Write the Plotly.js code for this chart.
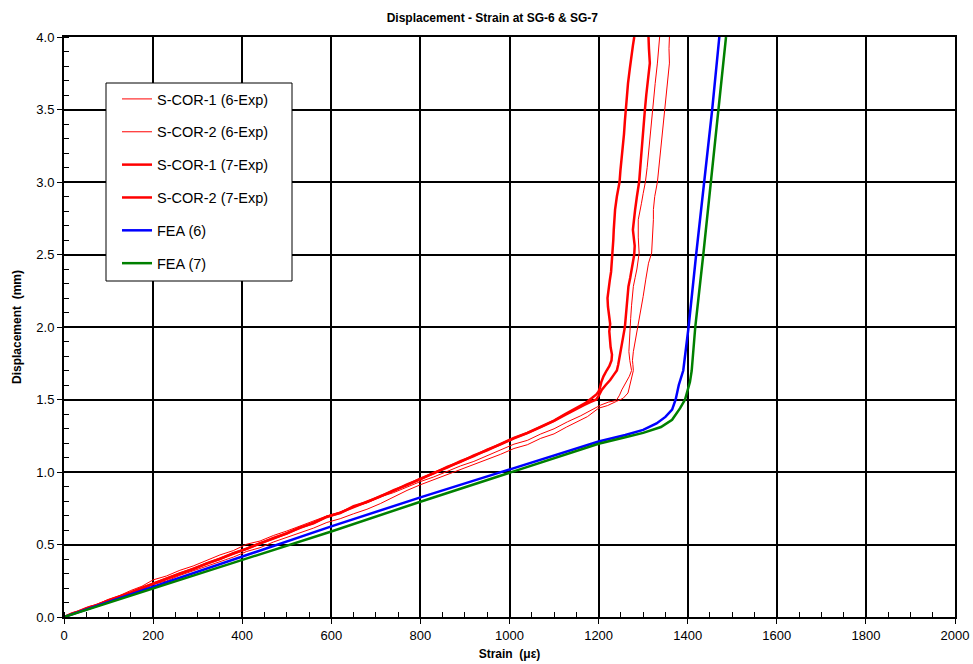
<!DOCTYPE html>
<html>
<head>
<meta charset="utf-8">
<script src="https://cdn.plot.ly/plotly-3.0.1.min.js"></script>
<style>
  html, body { margin: 0; padding: 0; background: #fff; }
  #chart { width: 973px; height: 664px; }
</style>
</head>
<body>
<div id="chart"></div>
<script>
// Strain readings (µε) and displacement (mm) for each specimen and the FE model

// S-COR-1, gauge SG-6 (experiment)
const cor1SG6Strain = [0, 20, 40, 55, 75, 100, 125, 150, 175, 200, 230, 260, 290, 320, 350, 380, 410, 440, 470, 500,
  530, 560, 590, 620, 650, 680, 710, 740, 770, 800, 830, 860, 890, 920, 950, 980, 1010, 1040, 1070, 1100,
  1130, 1160, 1185, 1205, 1222, 1235, 1241, 1247, 1252, 1258, 1263, 1269, 1274, 1272, 1270, 1268, 1269, 1270,
  1272, 1274, 1276, 1278, 1282, 1286, 1291, 1290, 1289, 1289, 1292, 1296, 1300, 1305, 1309, 1312, 1316, 1321,
  1324, 1327, 1332, 1335, 1337];
const cor1SG6Disp = [0, 0.03, 0.045, 0.072, 0.088, 0.122, 0.148, 0.183, 0.212, 0.256, 0.283, 0.322, 0.352, 0.388, 0.428, 0.458, 0.502, 0.524, 0.562, 0.593,
  0.628, 0.662, 0.697, 0.724, 0.762, 0.788, 0.828, 0.858, 0.897, 0.934, 0.966, 1.004, 1.042, 1.073, 1.112, 1.148, 1.192, 1.218, 1.262, 1.298,
  1.346, 1.388, 1.432, 1.462, 1.482, 1.49, 1.5, 1.53, 1.566, 1.6, 1.634, 1.66, 1.7, 1.73, 1.77, 1.83, 1.9, 2.0,
  2.06, 2.15, 2.22, 2.28, 2.34, 2.4, 2.51, 2.57, 2.62, 2.74, 2.8, 2.85, 2.92, 3.0, 3.1, 3.2, 3.35, 3.5,
  3.6, 3.68, 3.82, 3.92, 4.0];

// S-COR-2, gauge SG-6 (experiment)
const cor2SG6Strain = [0, 20, 40, 60, 80, 100, 125, 150, 175, 200, 230, 260, 290, 320, 350, 380, 410, 440, 470, 500,
  530, 560, 590, 620, 650, 680, 710, 740, 770, 800, 830, 860, 890, 920, 950, 980, 1010, 1040, 1070, 1100,
  1128, 1150, 1175, 1200, 1220, 1240, 1255, 1266, 1270, 1272, 1275, 1278, 1277, 1276, 1278, 1281, 1285, 1289,
  1293, 1297, 1300, 1306, 1312, 1319, 1320, 1321, 1322, 1323, 1323, 1326, 1332, 1336, 1340, 1345, 1349,
  1351, 1353, 1356, 1359, 1358, 1359];
const cor2SG6Disp = [0, 0.022, 0.038, 0.066, 0.083, 0.104, 0.128, 0.163, 0.188, 0.226, 0.248, 0.287, 0.318, 0.347, 0.382, 0.413, 0.452, 0.478, 0.517, 0.548,
  0.582, 0.613, 0.652, 0.678, 0.712, 0.743, 0.782, 0.828, 0.873, 0.912, 0.947, 0.982, 1.012, 1.048, 1.082, 1.122, 1.162, 1.188, 1.232, 1.263,
  1.31, 1.342, 1.382, 1.44, 1.458, 1.487, 1.508, 1.545, 1.6, 1.634, 1.67, 1.7, 1.74, 1.77, 1.83, 1.88, 1.94, 2.0,
  2.07, 2.14, 2.21, 2.33, 2.44, 2.51, 2.56, 2.6, 2.67, 2.74, 2.81, 2.9, 3.0, 3.12, 3.25, 3.38, 3.5,
  3.58, 3.65, 3.74, 3.82, 3.92, 4.0];

// S-COR-1, gauge SG-7 (experiment)
const cor1SG7Strain = [0, 15, 30, 50, 70, 95, 120, 150, 175, 200, 230, 260, 290, 320, 350, 380, 410, 440, 470, 500,
  530, 560, 590, 620, 650, 680, 710, 740, 770, 800, 830, 860, 890, 920, 950, 980, 1010, 1040, 1070, 1100,
  1125, 1150, 1170, 1185, 1195, 1200, 1203, 1206, 1211, 1218, 1224, 1229, 1230, 1227, 1225, 1224, 1226, 1223,
  1221, 1220, 1222, 1225, 1228, 1230, 1232, 1233, 1234, 1235, 1237, 1241, 1247, 1249, 1252, 1254, 1257, 1259,
  1261, 1264, 1266, 1270, 1273, 1277, 1280];
const cor1SG7Disp = [0, 0.02, 0.035, 0.06, 0.076, 0.11, 0.135, 0.17, 0.2, 0.23, 0.262, 0.3, 0.33, 0.37, 0.4, 0.44, 0.47, 0.51, 0.54, 0.58,
  0.615, 0.65, 0.69, 0.72, 0.76, 0.795, 0.83, 0.875, 0.91, 0.955, 0.99, 1.035, 1.07, 1.115, 1.15, 1.195, 1.235, 1.27, 1.315, 1.355,
  1.4, 1.44, 1.475, 1.51, 1.535, 1.555, 1.58, 1.62, 1.66, 1.7, 1.73, 1.77, 1.81, 1.86, 1.92, 1.97, 2.02, 2.08,
  2.14, 2.2, 2.26, 2.32, 2.38, 2.45, 2.52, 2.6, 2.67, 2.74, 2.81, 2.9, 3.0, 3.08, 3.16, 3.24, 3.33, 3.42,
  3.5, 3.6, 3.68, 3.78, 3.86, 3.94, 4.0];

// S-COR-2, gauge SG-7 (experiment)
const cor2SG7Strain = [0, 18, 35, 55, 75, 100, 125, 150, 180, 200, 230, 260, 290, 320, 350, 380, 410, 440, 470, 500,
  530, 560, 590, 620, 650, 680, 710, 740, 770, 800, 830, 860, 890, 920, 950, 980, 1010, 1040, 1070, 1100,
  1125, 1150, 1168, 1180, 1195, 1201, 1207, 1216, 1226, 1234, 1241, 1244, 1246, 1248, 1250, 1253, 1255, 1259,
  1261, 1263, 1265, 1267, 1271, 1275, 1278, 1280, 1281, 1279, 1277, 1278, 1279, 1282, 1286, 1291, 1294, 1297,
  1301, 1304, 1307, 1310, 1315, 1313, 1312];
const cor2SG7Disp = [0, 0.025, 0.04, 0.062, 0.082, 0.112, 0.14, 0.168, 0.205, 0.228, 0.265, 0.296, 0.334, 0.366, 0.404, 0.436, 0.474, 0.506, 0.545, 0.576,
  0.618, 0.646, 0.692, 0.716, 0.764, 0.792, 0.834, 0.87, 0.914, 0.95, 0.994, 1.03, 1.074, 1.11, 1.154, 1.19, 1.232, 1.268, 1.31, 1.352,
  1.394, 1.436, 1.462, 1.48, 1.5, 1.53, 1.566, 1.6, 1.634, 1.67, 1.7, 1.74, 1.77, 1.81, 1.85, 1.9, 1.93, 2.0,
  2.06, 2.12, 2.2, 2.28, 2.34, 2.4, 2.45, 2.5, 2.56, 2.6, 2.67, 2.7, 2.74, 2.81, 2.9, 3.0, 3.12, 3.25,
  3.38, 3.5, 3.6, 3.7, 3.82, 3.92, 4.0];

// Finite element model, gauge SG-6
const feaSG6Strain = [0, 200, 400, 600, 800, 1000, 1100, 1200, 1260, 1300, 1330, 1350, 1365, 1373, 1380, 1390, 1396, 1402, 1419, 1437, 1455, 1471];
const feaSG6Disp = [0, 0.21, 0.42, 0.625, 0.825, 1.02, 1.115, 1.21, 1.255, 1.29, 1.335, 1.38, 1.43, 1.5, 1.6, 1.7, 1.85, 2.0, 2.5, 3.0, 3.5, 4.0];

// Finite element model, gauge SG-7
const feaSG7Strain = [0, 200, 400, 600, 800, 1000, 1200, 1260, 1300, 1340, 1365, 1383, 1394, 1405, 1409, 1413, 1417, 1435, 1452, 1470, 1486];
const feaSG7Disp = [0, 0.195, 0.39, 0.59, 0.795, 0.995, 1.195, 1.24, 1.27, 1.31, 1.36, 1.44, 1.5, 1.62, 1.7, 1.85, 2.0, 2.5, 3.0, 3.5, 4.0];

const seriesNames = ['S-COR-1 (6-Exp)', 'S-COR-2 (6-Exp)', 'S-COR-1 (7-Exp)', 'S-COR-2 (7-Exp)', 'FEA (6)', 'FEA (7)'];
const xTickValues = [0, 200, 400, 600, 800, 1000, 1200, 1400, 1600, 1800, 2000];
const yTickValues = [0, 0.5, 1.0, 1.5, 2.0, 2.5, 3.0, 3.5, 4.0];

function line(x, y, name, color, width, idx) {
  return {
    type: 'scatter', mode: 'lines', x: x, y: y, name: name,
    legendgroup: 'g' + idx,
    line: { color: color, width: width },
    hoverinfo: 'skip'
  };
}

const traces = [
  line(cor1SG6Strain, cor1SG6Disp, seriesNames[0], '#FF0000', 1, 0),
  line(cor2SG6Strain, cor2SG6Disp, seriesNames[1], '#FF0000', 1, 1),
  line(cor1SG7Strain, cor1SG7Disp, seriesNames[2], '#FF0000', 2.5, 2),
  line(cor2SG7Strain, cor2SG7Disp, seriesNames[3], '#FF0000', 2.5, 3),
  line(feaSG6Strain, feaSG6Disp, seriesNames[4], '#0000FF', 2.5, 4),
  line(feaSG7Strain, feaSG7Disp, seriesNames[5], '#008000', 2.5, 5)
];

const fontFamily = 'Arial, "Liberation Sans", Helvetica, sans-serif';

const layout = {
  width: 973, height: 664,
  margin: { l: 64, r: 18, t: 37, b: 47 },
  paper_bgcolor: '#ffffff', plot_bgcolor: '#ffffff',
  font: { family: fontFamily, size: 13, color: '#000000' },
  showlegend: true,
  title: {
    text: '<b>Displacement - Strain at SG-6 &amp; SG-7</b>',
    font: { family: fontFamily, size: 12, color: '#000' },
    xref: 'container', x: 0.506, xanchor: 'center',
    yref: 'container', y: 0.973, yanchor: 'middle'
  },
  xaxis: {
    range: [0, 2000], autorange: false,
    tickvals: xTickValues, ticktext: xTickValues.map(String),
    showgrid: true, gridcolor: '#000000', gridwidth: 2,
    showline: true, linecolor: '#000000', linewidth: 2, mirror: true,
    ticks: 'outside', ticklen: 5, tickwidth: 1, tickcolor: '#000',
    minor: { dtick: 50, ticks: 'inside', ticklen: 5, tickwidth: 1, tickcolor: '#000', showgrid: false },
    zeroline: false,
    tickfont: { size: 13 },
    title: { text: '<b>Strain\u00a0\u00a0(\u03bc\u03b5)</b>', font: { size: 12 }, standoff: 8 }
  },
  yaxis: {
    range: [0, 4], autorange: false,
    tickvals: yTickValues, ticktext: yTickValues.map(v => v.toFixed(1)),
    showgrid: true, gridcolor: '#000000', gridwidth: 2,
    showline: true, linecolor: '#000000', linewidth: 2, mirror: true,
    ticks: 'outside', ticklen: 5, tickwidth: 1, tickcolor: '#000',
    minor: { dtick: 0.1, ticks: 'inside', ticklen: 5, tickwidth: 1, tickcolor: '#000', showgrid: false },
    zeroline: false,
    tickfont: { size: 13 },
    title: { text: '<b>Displacement\u00a0\u00a0(mm)</b>', font: { size: 12 }, standoff: 12 }
  },
  legend: {
    x: (117 - 64) / 891, y: 0.9207, xanchor: 'left', yanchor: 'top',
    bgcolor: 'rgba(0,0,0,0)', borderwidth: 0,
    font: { family: fontFamily, size: 14.5, color: '#000' },
    traceorder: 'grouped', tracegroupgap: 11,
    itemwidth: 30
  },
  shapes: [{
    type: 'rect', xref: 'paper', yref: 'paper', layer: 'above',
    x0: (106 - 64) / 891, x1: (292 - 64) / 891,
    y0: (617 - 281) / 580, y1: (617 - 83) / 580,
    line: { color: '#000', width: 1 }, fillcolor: '#ffffff'
  }]
};

Plotly.newPlot('chart', traces, layout, { staticPlot: true, displayModeBar: false });
</script>
</body>
</html>
